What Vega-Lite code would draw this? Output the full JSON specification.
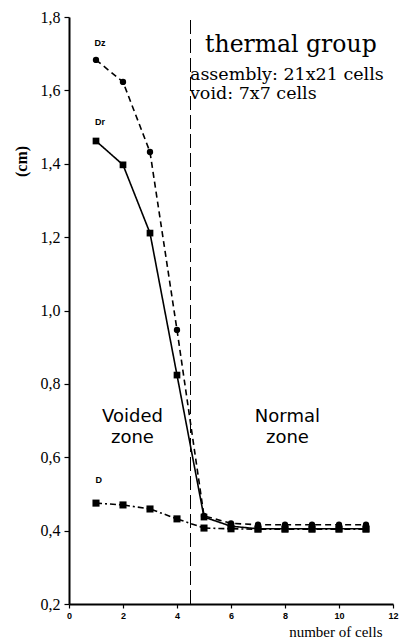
{
  "$schema": "https://vega.github.io/schema/vega-lite/v6.json",
  "width": 324,
  "height": 587,
  "autosize": "none",
  "padding": {"left": 69, "top": 17, "right": 9, "bottom": 39},
  "background": "white",
  "config": {"view": {"stroke": null}},
  "datasets": {
    "curves": [
      {"x": 1, "y": 1.683, "s": "Dz"}, {"x": 2, "y": 1.623, "s": "Dz"}, {"x": 3, "y": 1.432, "s": "Dz"}, {"x": 4, "y": 0.947, "s": "Dz"}, {"x": 5, "y": 0.44, "s": "Dz"}, {"x": 6, "y": 0.42, "s": "Dz"}, {"x": 7, "y": 0.416, "s": "Dz"}, {"x": 8, "y": 0.416, "s": "Dz"}, {"x": 9, "y": 0.416, "s": "Dz"}, {"x": 10, "y": 0.416, "s": "Dz"}, {"x": 11, "y": 0.416, "s": "Dz"},
      {"x": 1, "y": 1.462, "s": "Dr"}, {"x": 2, "y": 1.397, "s": "Dr"}, {"x": 3, "y": 1.211, "s": "Dr"}, {"x": 4, "y": 0.824, "s": "Dr"}, {"x": 5, "y": 0.437, "s": "Dr"}, {"x": 6, "y": 0.412, "s": "Dr"}, {"x": 7, "y": 0.405, "s": "Dr"}, {"x": 8, "y": 0.405, "s": "Dr"}, {"x": 9, "y": 0.405, "s": "Dr"}, {"x": 10, "y": 0.405, "s": "Dr"}, {"x": 11, "y": 0.405, "s": "Dr"},
      {"x": 1, "y": 0.475, "s": "D"}, {"x": 2, "y": 0.47, "s": "D"}, {"x": 3, "y": 0.459, "s": "D"}, {"x": 4, "y": 0.432, "s": "D"}, {"x": 5, "y": 0.407, "s": "D"}, {"x": 6, "y": 0.405, "s": "D"}, {"x": 7, "y": 0.404, "s": "D"}, {"x": 8, "y": 0.404, "s": "D"}, {"x": 9, "y": 0.404, "s": "D"}, {"x": 10, "y": 0.404, "s": "D"}, {"x": 11, "y": 0.404, "s": "D"}
    ],
    "serieslabels": [
      {"x": 1.15, "y": 1.73, "t": "Dz"},
      {"x": 1.15, "y": 1.514, "t": "Dr"},
      {"x": 1.1, "y": 0.538, "t": "D"}
    ],
    "zonelabels": [
      {"x": 2.35, "y": 0.696, "t": "Voided"},
      {"x": 2.35, "y": 0.639, "t": "zone"},
      {"x": 8.09, "y": 0.696, "t": "Normal"},
      {"x": 8.09, "y": 0.639, "t": "zone"}
    ],
    "info": [
      {"x": 4.48, "y": 1.628, "t": "assembly: 21x21 cells"},
      {"x": 4.48, "y": 1.576, "t": "void: 7x7 cells"}
    ],
    "title": [
      {"x": 5.04, "y": 1.704, "t": "thermal group"}
    ]
  },
  "layer": [
    {
      "data": {"values": [{"v": 4.5}]},
      "mark": {"type": "rule", "color": "black", "strokeWidth": 1, "strokeDash": [14, 5]},
      "encoding": {
        "x": {"datum": 4.5, "type": "quantitative"},
        "y": {"datum": 0.2, "type": "quantitative"},
        "y2": {"datum": 1.8}
      }
    },
    {
      "data": {"name": "curves"},
      "mark": {"type": "line", "color": "black", "strokeWidth": 1.6},
      "encoding": {
        "x": {
          "field": "x", "type": "quantitative",
          "scale": {"domain": [0, 12], "nice": false, "zero": false},
          "axis": {
            "values": [0, 1, 2, 3, 4, 5, 6, 7, 8, 9, 10, 11, 12],
            "labelExpr": "datum.value % 2 == 0 ? datum.label : ''",
            "grid": false, "domainColor": "black", "domainWidth": 2,
            "tickColor": "black", "tickSize": 4, "tickWidth": 1.2,
            "labelFont": "Liberation Sans", "labelFontWeight": "bold", "labelFontSize": 9, "labelColor": "black",
            "labelPadding": 3, "labelFlush": false, "labelOverlap": false,
            "title": "number of cells", "titleFont": "Liberation Serif", "titleFontWeight": "normal", "titleFontSize": 15, "titleColor": "black",
            "titleAnchor": "end", "titleAlign": "right", "titleX": 313, "titleY": 32, "titleBaseline": "alphabetic"
          }
        },
        "y": {
          "field": "y", "type": "quantitative",
          "scale": {"domain": [0.2, 1.8], "nice": false, "zero": false},
          "axis": {
            "values": [0.2, 0.3, 0.4, 0.5, 0.6, 0.7, 0.8, 0.9, 1.0, 1.1, 1.2, 1.3, 1.4, 1.5, 1.6, 1.7, 1.8],
            "labelExpr": "abs(round(datum.value*10)) % 2 == 0 ? replace(format(datum.value, '.1f'), '.', ',') : ''",
            "grid": false, "domainColor": "black", "domainWidth": 2,
            "tickColor": "black", "tickSize": 5, "tickWidth": 1.2,
            "labelFont": "Liberation Serif", "labelFontSize": 16, "labelColor": "black",
            "labelPadding": 4, "labelFlush": false, "labelOverlap": false,
            "title": "(cm)", "titleFont": "Liberation Serif", "titleFontWeight": "bold", "titleFontSize": 16, "titleColor": "black",
            "titleAngle": -90, "titleX": -48, "titleY": 144, "titleAlign": "center", "titleBaseline": "middle"
          }
        },
        "detail": {"field": "s"},
        "strokeDash": {"field": "s", "type": "nominal", "legend": null,
          "scale": {"domain": ["Dz", "Dr", "D"], "range": [[6, 4], [1, 0], [6, 3, 2, 3]]}}
      }
    },
    {
      "data": {"name": "curves"},
      "mark": {"type": "point", "filled": true, "color": "black", "opacity": 1},
      "encoding": {
        "x": {"field": "x", "type": "quantitative"},
        "y": {"field": "y", "type": "quantitative"},
        "shape": {"field": "s", "type": "nominal", "legend": null,
          "scale": {"domain": ["Dz", "Dr", "D"], "range": ["circle", "square", "square"]}},
        "size": {"field": "s", "type": "nominal", "legend": null,
          "scale": {"domain": ["Dz", "Dr", "D"], "range": [40, 50, 40]}}
      }
    },
    {
      "data": {"name": "serieslabels"},
      "mark": {"type": "text", "font": "Liberation Sans", "fontWeight": "bold", "fontSize": 9, "color": "black", "align": "center", "baseline": "middle"},
      "encoding": {
        "x": {"field": "x", "type": "quantitative"},
        "y": {"field": "y", "type": "quantitative"},
        "text": {"field": "t"}
      }
    },
    {
      "data": {"name": "zonelabels"},
      "mark": {"type": "text", "font": "DejaVu Sans", "fontSize": 18, "color": "black", "align": "center", "baseline": "alphabetic"},
      "encoding": {
        "x": {"field": "x", "type": "quantitative"},
        "y": {"field": "y", "type": "quantitative"},
        "text": {"field": "t"}
      }
    },
    {
      "data": {"name": "info"},
      "mark": {"type": "text", "font": "DejaVu Serif", "fontSize": 17.5, "color": "black", "align": "left", "baseline": "alphabetic"},
      "encoding": {
        "x": {"field": "x", "type": "quantitative"},
        "y": {"field": "y", "type": "quantitative"},
        "text": {"field": "t"}
      }
    },
    {
      "data": {"name": "title"},
      "mark": {"type": "text", "font": "DejaVu Serif", "fontSize": 23.5, "color": "black", "align": "left", "baseline": "alphabetic"},
      "encoding": {
        "x": {"field": "x", "type": "quantitative"},
        "y": {"field": "y", "type": "quantitative"},
        "text": {"field": "t"}
      }
    }
  ]
}
